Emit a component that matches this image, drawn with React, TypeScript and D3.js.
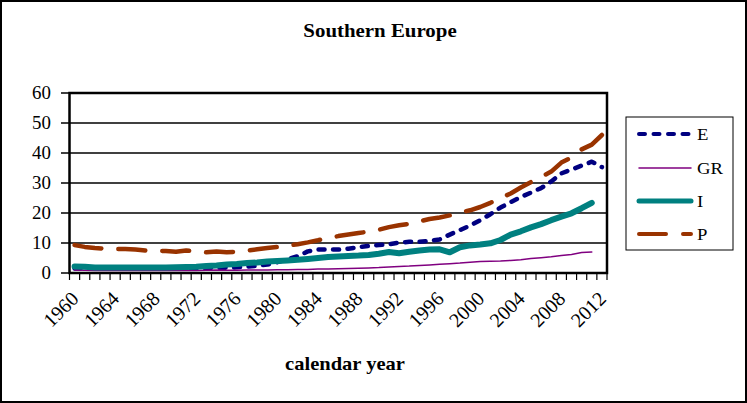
import React from "react";
import * as d3 from "d3";

const years: number[] = d3.range(1960, 2013);
const tickYears: number[] = [1960, 1964, 1968, 1972, 1976, 1980, 1984, 1988, 1992, 1996, 2000, 2004, 2008, 2012];
const yTicks: number[] = [0, 10, 20, 30, 40, 50, 60];

// values 1960..2012 (null = no data)
const E: (number | null)[] = [
  1.5, 1.5, 1.5, 1.5, 1.5, 1.5, 1.5, 1.5, 1.5, 1.5,
  1.5, 1.5, 1.6, 1.6, 1.7, 1.8, 1.9, 2.1, 2.4, 2.8,
  3.6, 4.6, 5.6, 7.2, 7.8, 7.8, 7.8, 8.1, 8.6, 9.0,
  9.3, 9.6, 10.1, 10.4, 10.4, 10.7, 11.2, 12.8, 14.3, 15.8,
  17.6, 19.6, 21.8, 23.6, 25.3, 26.8, 28.3, 30.5, 33.2, 34.5,
  35.8, 37.1, 35.3,
];
const GR: (number | null)[] = [
  1.0, 0.9, 0.8, 0.8, 0.8, 0.8, 0.8, 0.8, 0.8, 0.8,
  0.8, 0.8, 0.8, 0.9, 1.0, 0.9, 0.9, 1.0, 1.0, 1.0,
  1.1, 1.1, 1.2, 1.2, 1.3, 1.3, 1.4, 1.5, 1.6, 1.7,
  1.8, 2.0, 2.2, 2.3, 2.5, 2.7, 2.9, 3.1, 3.3, 3.6,
  3.8, 3.9, 4.0, 4.2, 4.4, 4.8, 5.1, 5.4, 5.8, 6.2,
  6.8, 7.0, null,
];
const I: (number | null)[] = [
  2.2, 2.1, 1.8, 1.8, 1.8, 1.8, 1.8, 1.8, 1.8, 1.8,
  1.9, 2.0, 2.1, 2.3, 2.5, 2.8, 3.0, 3.3, 3.5, 3.8,
  4.0, 4.2, 4.4, 4.7, 5.0, 5.3, 5.5, 5.7, 5.8, 6.0,
  6.4, 7.0, 6.6, 7.1, 7.5, 7.8, 7.9, 6.9, 8.6, 9.2,
  9.5, 9.9, 11.0, 12.8, 13.9, 15.2, 16.3, 17.6, 18.8, 19.9,
  21.6, 23.4, null,
];
const P: (number | null)[] = [
  9.3, 8.7, 8.3, 8.1, 8.0, 8.0, 7.8, 7.5, 7.4, 7.3,
  7.1, 7.5, 7.1, 6.9, 7.2, 6.9, 7.1, 7.5, 7.9, 8.3,
  8.7, 9.1, 9.6, 10.2, 10.9, 11.7, 12.3, 12.8, 13.3, 13.8,
  14.4, 15.3, 15.9, 16.4, 17.2, 18.0, 18.5, 19.2, 20.2, 20.9,
  22.0, 23.4, 25.0, 26.5, 28.5, 30.3, 32.0, 33.8, 36.8, 38.5,
  41.2, 42.8, 46.0,
];

const seriesNames = ["E", "GR", "I", "P"];
const seriesData = [E, GR, I, P];
const seriesColors = ["#000080", "#800080", "#008080", "#993300"];
const seriesWidths = [4.5, 1.5, 6, 4.5];
const seriesDash = ["6,8.5", "", "", "27,17"];

const FONT = "'Liberation Serif', 'Times New Roman', serif";

function SText({ x, y, sx = 1, size, bold = false, anchor = "middle", rotate = 0, children }: any) {
  return (
    <text
      transform={`translate(${x},${y}) scale(${sx},1) rotate(${rotate})`}
      fontFamily={FONT}
      fontSize={size}
      fontWeight={bold ? "bold" : "normal"}
      textAnchor={anchor}
      fill="#000"
    >
      {children}
    </text>
  );
}

export default function App() {
  const W = 747, H = 403;
  const left = 69.5, right = 607, top = 93, bottom = 273;
  const x = d3.scaleBand<number>().domain(years).range([left, right]).padding(0);
  const y = d3.scaleLinear().domain([0, 60]).range([bottom, top]);
  const cx = (yr: number) => (x(yr) as number) + x.bandwidth() / 2;

  const line = (arr: (number | null)[]) =>
    d3.line<number>()
      .defined((_, i) => arr[i] != null)
      .x((_, i) => cx(years[i]))
      .y((_, i) => y(arr[i] as number))(years as any) || "";

  const boundaries = d3.range(years.length + 1).map((i) => left + i * x.bandwidth());

  const legendY = [134, 168, 201, 234];

  return (
    <svg width={W} height={H} style={{ position: "absolute", left: 0, top: 0, background: "#fff" }}>
      <rect x={1} y={1} width={W - 2} height={H - 2} fill="#fff" stroke="#000" strokeWidth={2} />
      <SText x={380} y={37} size={18} bold sx={1.16}>Southern Europe</SText>

      {/* gridlines */}
      {yTicks.map((t) => (
        <line key={"g" + t} x1={left} x2={right} y1={y(t)} y2={y(t)} stroke="#000" strokeWidth={1.5} />
      ))}
      {/* y ticks & labels */}
      {yTicks.map((t) => (
        <g key={"yt" + t}>
          <line x1={61} x2={left} y1={y(t)} y2={y(t)} stroke="#000" strokeWidth={1.5} />
          <SText x={51} y={y(t) + 6.3} size={18} anchor="end" sx={1.05}>{t}</SText>
        </g>
      ))}
      {/* x ticks */}
      {boundaries.map((b, i) => (
        <line key={"xt" + i} x1={b} x2={b} y1={bottom} y2={bottom + 7} stroke="#000" strokeWidth={1.2} />
      ))}
      {tickYears.map((yr) => (
        <SText key={"xl" + yr} x={cx(yr) + 5.3} y={300} size={20} anchor="end" rotate={-45}>
          {yr}
        </SText>
      ))}

      {/* series */}
      {seriesData.map((arr, k) => (
        <path
          key={"s" + k}
          d={line(arr)}
          fill="none"
          stroke={seriesColors[k]}
          strokeWidth={seriesWidths[k]}
          strokeDasharray={seriesDash[k] || undefined}
          strokeLinecap="round"
          strokeLinejoin="round"
        />
      ))}

      {/* plot frame */}
      <rect x={left} y={top} width={right - left} height={bottom - top} fill="none" stroke="#000" strokeWidth={2.5} />

      <SText x={345} y={370} size={18} bold sx={1.14}>calendar year</SText>

      {/* legend */}
      <rect x={626} y={117} width={107} height={133} fill="#fff" stroke="#000" strokeWidth={1} />
      {seriesNames.map((n, k) => (
        <g key={"lg" + n}>
          <line
            x1={639} x2={691} y1={legendY[k]} y2={legendY[k]}
            stroke={seriesColors[k]}
            strokeWidth={k === 2 ? 5 : k === 1 ? 1.5 : 4}
            strokeDasharray={seriesDash[k] || undefined}
            strokeLinecap="round"
          />
          <SText x={697} y={legendY[k] + 6} size={17} anchor="start" sx={1.1}>{n}</SText>
        </g>
      ))}
    </svg>
  );
}
